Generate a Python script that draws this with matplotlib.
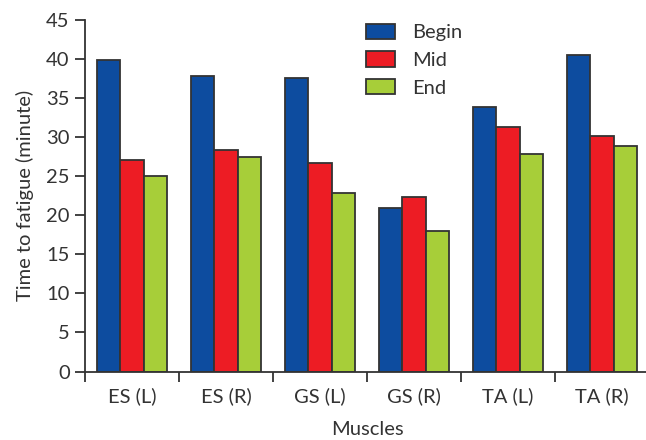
import matplotlib
matplotlib.use("Agg")
import matplotlib.pyplot as plt
import numpy as np
from matplotlib.patches import Patch

categories = ["ES (L)", "ES (R)", "GS (L)", "GS (R)", "TA (L)", "TA (R)"]
begin = [39.9, 37.8, 37.6, 20.9, 33.9, 40.5]
mid = [27.1, 28.3, 26.7, 22.3, 31.3, 30.2]
end = [25.0, 27.5, 22.9, 18.0, 27.8, 28.9]
series_names = ["Begin", "Mid", "End"]
colors = ["#0D4C9F", "#ED1C24", "#A7CE39"]
yticks = [0, 5, 10, 15, 20, 25, 30, 35, 40, 45]

plt.rcParams['font.family'] = ['Lato', 'DejaVu Sans']
FS = 14.5
W, H = 646, 440
fig = plt.figure(figsize=(W/100, H/100), dpi=100)
ax = fig.add_axes([85/W, (H-371.5)/H, 564/W, 351.5/H])

x = np.arange(len(categories))
bw = 0.245
ec = "#333333"
for i, (vals, c) in enumerate(zip([begin, mid, end], colors)):
    ax.bar(x + (i-1)*bw, vals, width=bw, color=c, edgecolor=ec, linewidth=1.3, zorder=2)

ax.set_xlim(-0.5, 5.5)
ax.set_ylim(0, 45)
ax.set_yticks(yticks)
ax.set_xticks(np.arange(-0.5, 5.5, 1.0))
ax.set_xticklabels([])
ax.set_xticks(x, minor=True)
ax.set_xticklabels(categories, minor=True)
ax.tick_params(axis='x', which='minor', length=0, pad=11, labelsize=FS, colors='#333333')
ax.tick_params(axis='x', which='major', length=7, width=1.3, color='#333333', direction='out')
ax.tick_params(axis='y', length=7, width=1.3, color='#333333', direction='out', labelsize=FS, labelcolor='#333333', pad=4)
for s in ['top', 'right']:
    ax.spines[s].set_visible(False)
for s in ['left', 'bottom']:
    ax.spines[s].set_linewidth(1.3)
    ax.spines[s].set_color('#333333')

ax.set_ylabel("Time to fatigue (minute)", fontsize=FS, color='#333333', labelpad=9)
ax.set_xlabel("Muscles", fontsize=FS, color='#333333', labelpad=12)

handles = [Patch(facecolor=c, edgecolor=ec, linewidth=1.3, label=n) for n, c in zip(series_names, colors)]
leg = ax.legend(handles=handles, loc='upper left', bbox_to_anchor=(0.498, 0.99), frameon=False,
                borderpad=0, borderaxespad=0,
                fontsize=FS, handlelength=1.45, handleheight=0.8, handletextpad=0.85, labelspacing=0.5,
                labelcolor='#333333')

fig.savefig("out.png", dpi=100)
